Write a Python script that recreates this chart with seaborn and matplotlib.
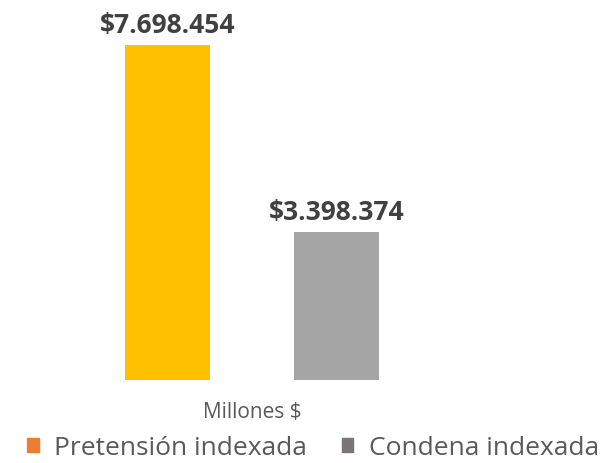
import pandas as pd
import matplotlib
matplotlib.use("Agg")
import matplotlib.pyplot as plt
import matplotlib.patches as mpatches
import seaborn as sns

# data
category = "Millones $"
series = ["Pretensión indexada", "Condena indexada"]
values = [7698454, 3398374]
labels = ["$7.698.454", "$3.398.374"]
bar_colors = ["#FFC000", "#A5A5A5"]
legend_colors = ["#ED7D31", "#7A7676"]

df = pd.DataFrame({"cat": [category] * len(series), "serie": series, "valor": values})

sns.set_theme(style="white")
plt.rcParams["font.family"] = ["Open Sans", "DejaVu Sans"]

fig = plt.figure(figsize=(6.10, 4.64), dpi=100)
ax = fig.add_axes([0, 83 / 464, 1, 371 / 464])

sns.barplot(data=df, x="cat", y="valor", hue="serie", hue_order=series,
            palette=bar_colors, width=0.8, gap=0.5, saturation=1,
            linewidth=0, legend=False, ax=ax)

ax.set_xlim(-252 / 422.5, (610 - 252) / 422.5)
ax.set_ylim(0, max(values) * 371 / 335)
sns.despine(ax=ax, left=True, bottom=True)
ax.set_yticks([])
ax.set_xlabel("")
ax.set_ylabel("")
ax.tick_params(axis="x", length=0, pad=15, labelsize=15, labelcolor="#595959")

# value labels above each bar
for cont, lab in zip(ax.containers, labels):
    bar = cont.patches[0]
    ax.annotate(lab, (bar.get_x() + bar.get_width() / 2, bar.get_height()),
                xytext=(0, 9.5), textcoords="offset points",
                ha="center", va="baseline", fontsize=19,
                fontweight="bold", color="#404040", annotation_clip=False)

handles = [mpatches.Patch(color=c, label=s) for c, s in zip(legend_colors, series)]
fig.legend(handles=handles, loc="center", bbox_to_anchor=(313 / 610, 15 / 464),
           ncol=2, frameon=False, fontsize=19, labelcolor="#595959",
           handlelength=0.45, handleheight=0.4, handletextpad=0.6,
           columnspacing=1.3, borderpad=0, borderaxespad=0)

fig.savefig("out.png", dpi=100)
